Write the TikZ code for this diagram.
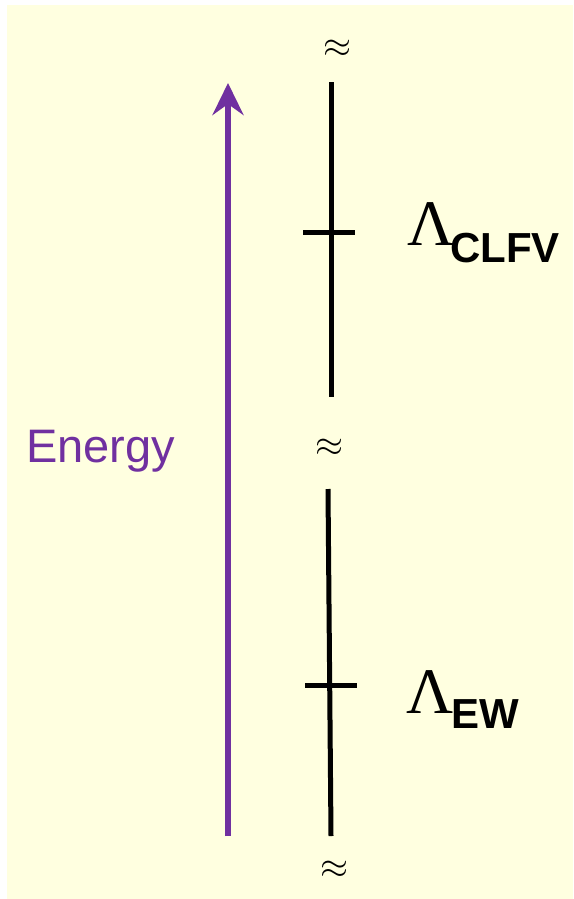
\documentclass[tikz,border=0pt]{standalone}
\usepackage{fontspec}
\setsansfont{Liberation Sans}
\newfontfamily\lamfont{Liberation Serif}
\usepackage{tikz}
\usetikzlibrary{arrows.meta,positioning}
\definecolor{scbg}{RGB}{255,255,224}
\definecolor{scpurple}{RGB}{112,48,160}

\begin{document}
\begin{tikzpicture}[
  x=1pt, y=-1pt,
  every node/.style={inner sep=0pt},
  scaleline/.style={line width=5pt, black},
  approx/.style={},
  scalelabel/.style={anchor=base west, font=\lamfont\fontsize{65}{65}\selectfont}
]
\useasboundingbox (0,0) rectangle (573,899);
\fill[scbg] (7,5) rectangle (573,899);
% energy axis
\coordinate (elow) at (228,836);
\coordinate (ehigh) at (228,83);
\draw[-{Stealth[length=32pt,width=31pt,inset=11pt]}, line width=6pt, scpurple] (elow) -- (ehigh);
\node[anchor=base west, text=scpurple, font=\fontsize{47}{47}\selectfont\sffamily] (energy) at (26,462) {Energy};
% scale pieces
\coordinate (upa) at (331,82);
\coordinate (upb) at (331,397);
\coordinate (lowa) at (328,489);
\coordinate (lowb) at (331,836);
\draw[scaleline] (upa) -- (upb);
\draw[scaleline] (lowa) -- (lowb);
\coordinate (clfvl) at (303,232);
\coordinate (clfvr) at (355,232);
\coordinate (ewl) at (305,685);
\coordinate (ewr) at (357,685);
\draw[scaleline] (clfvl) -- (clfvr);
\draw[scaleline] (ewl) -- (ewr);
% breaks
\node[approx] (aptop) at (337,49) {\scalebox{3.6}{$\approx$}};
\node[approx] (apmid) at (329.5,448) {\scalebox{3.6}{$\approx$}};
\node[approx] (apbot) at (334.5,870) {\scalebox{3.6}{$\approx$}};
% labels
\node[scalelabel] (lclfv) at (407,245) {Λ\kern-4pt\raisebox{-17pt}{\sffamily\bfseries\fontsize{42}{42}\selectfont CLFV}};
\node[scalelabel] (lew) at (406,713) {Λ\kern-2pt\raisebox{-15pt}{\sffamily\bfseries\fontsize{42}{42}\selectfont EW}};
\end{tikzpicture}
\end{document}
